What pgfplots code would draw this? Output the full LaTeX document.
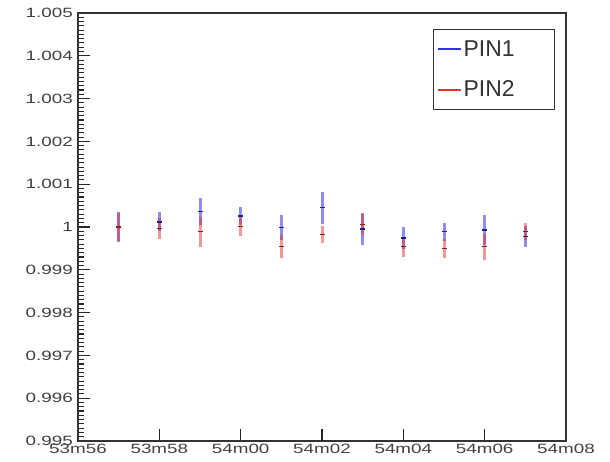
\documentclass[border=0pt]{standalone}
\usepackage{fontspec}
\setmainfont{Liberation Sans}
\newfontfamily\tickfont{Liberation Sans}[FakeStretch=1.4]
\usepackage{pgfplots}
\pgfplotsset{compat=1.18}

\definecolor{pinblue}{RGB}{50,50,230}
\definecolor{pinred}{RGB}{230,50,50}

% time in minutes after 53m00 (53m57 ... 54m07), value, error
\pgfplotstableread{
x   y        e
57  1.00000  0.00035
58  1.00012  0.00022
59  1.00036  0.00031
60  1.00026  0.00021
61  0.99998  0.00029
62  1.00045  0.00037
63  0.99995  0.00037
64  0.99974  0.00026
65  0.99989  0.00021
66  0.99993  0.00035
67  0.99978  0.00025
}\pinone
\pgfplotstableread{
x   y        e
57  1.00000  0.00032
58  0.99996  0.00025
59  0.99989  0.00035
60  1.00001  0.00023
61  0.99954  0.00027
62  0.99983  0.00020
63  1.00006  0.00025
64  0.99954  0.00023
65  0.99950  0.00023
66  0.99954  0.00030
67  0.99989  0.00020
}\pintwo

\begin{document}
\begin{tikzpicture}[x=1bp,y=1bp]
\useasboundingbox (0,0) rectangle (610,462);
\begin{axis}[
  at={(78bp,21bp)}, anchor=south west,
  width=488bp, height=428bp, scale only axis,
  xmin=56, xmax=68, ymin=0.995, ymax=1.005,
  xtick={56,58,60,64,66,68},
  xticklabels={53m56,53m58,54m00,54m04,54m06,54m08},
  extra x ticks={62}, extra x tick labels={54m02},
  minor x tick num=4,
  ytick={0.995,0.996,0.997,0.998,0.999,1,1.001,1.002,1.003,1.004,1.005},
  yticklabels={0.995,0.996,0.997,0.998,0.999,1,1.001,1.002,1.003,1.004,1.005},
  minor y tick num=9,
  xtick pos=lower, ytick pos=left,
  tick align=inside,
  major tick length=12bp, minor tick length=6bp,
  tick style={black!85, line width=1.1bp},
  axis line style={black!80, line width=1.5bp},
  ticklabel style={font=\tickfont\fontsize{13.5}{14}\selectfont, text=black!75},
  xticklabel style={inner sep=1bp, yshift=-2bp},
  yticklabel style={inner sep=1bp, xshift=-4bp},
  legend style={
    at={(0.7275,0.9626)}, anchor=north west,
    draw=black!80, line width=1.2bp,
    font=\fontsize{23}{23}\selectfont, text=black!80,
    inner xsep=3bp, inner ysep=9bp, row sep=19bp,
    cells={anchor=west},
  },
]
\addplot[only marks, draw=pinblue, mark=-, mark size=2.5bp,
  mark options={draw=pinblue!60!black, line width=1.3bp},
  legend image code/.code={\draw[pinblue, line width=2bp] (0bp,0bp) -- (23bp,0bp);},
  error bars/.cd, y dir=both, y explicit, error mark=none,
  error bar style={pinblue, line width=3bp, opacity=0.55}]
  table[x=x, y=y, y error=e] {\pinone};
\addlegendentry{\makebox[86bp][l]{PIN1}}
\addplot[only marks, draw=pinred, mark=-, mark size=2.5bp,
  mark options={draw=pinred!60!black, line width=1.3bp},
  legend image code/.code={\draw[pinred, line width=2bp] (0bp,0bp) -- (23bp,0bp);},
  error bars/.cd, y dir=both, y explicit, error mark=none,
  error bar style={pinred, line width=3bp, opacity=0.5}]
  table[x=x, y=y, y error=e] {\pintwo};
\addlegendentry{\makebox[86bp][l]{PIN2}}
\end{axis}
\end{tikzpicture}
\end{document}
